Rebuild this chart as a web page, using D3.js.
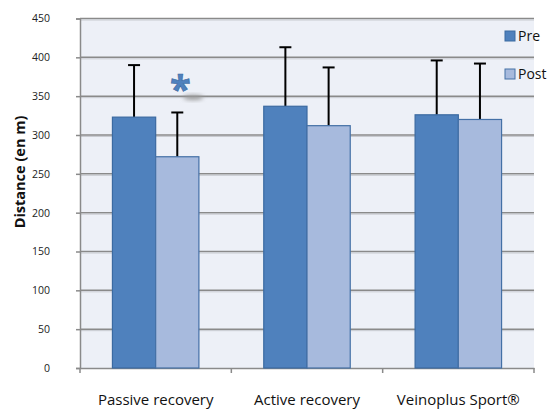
<!DOCTYPE html>
<html>
<head>
<meta charset="utf-8">
<script src="https://cdn.jsdelivr.net/npm/d3@7"></script>
<style>
  html, body { margin: 0; padding: 0; background: #ffffff; }
  svg { display: block; }
</style>
</head>
<body>
<svg id="chart" width="553" height="411"></svg>
<script>
// ---- data ----
const categories = ["Passive recovery", "Active recovery", "Veinoplus Sport®"];
const seriesNames = ["Pre", "Post"];
const preValues = [323, 337, 326];
const preSD = [67, 76, 70];
const postValues = [272, 312, 320];
const postSD = [57, 75, 72];
const yTicks = [0, 50, 100, 150, 200, 250, 300, 350, 400, 450];
const significant = [true, false, false]; // asterisk above post bar

// ---- layout ----
const svg = d3.select("#chart");
const plot = { left: 80, right: 534, top: 18.5, bottom: 368 };
const colors = { Pre: "#4f81bd", Post: "#a7badd" };
const strokes = { Pre: "#3b6aa1", Post: "#4470a6" };
const font = "'Open Sans', 'DejaVu Sans', sans-serif";

const x = d3.scaleBand().domain(categories).range([plot.left, plot.right]).paddingInner(0).paddingOuter(0);
const y = d3.scaleLinear().domain([0, 450]).range([plot.bottom, plot.top]);
const barW = x.bandwidth() / 3.5;
const sub = d3.scaleBand().domain(seriesNames)
  .range([0, barW * 2]);

// background
svg.append("rect")
  .attr("x", plot.left).attr("y", plot.top)
  .attr("width", plot.right - plot.left).attr("height", plot.bottom - plot.top)
  .attr("fill", "#edf0f7");

// shadow filter
const defs = svg.append("defs");
const f = defs.append("filter").attr("id", "blur").attr("x", "-50%").attr("y", "-50%").attr("width", "200%").attr("height", "200%");
f.append("feGaussianBlur").attr("stdDeviation", 2);

// gridlines
svg.append("g").selectAll("line").data(yTicks.filter(d => d > 0)).join("line")
  .attr("x1", plot.left).attr("x2", plot.right)
  .attr("y1", d => y(d)).attr("y2", d => y(d))
  .attr("stroke", "#8a8a8a").attr("stroke-width", 1.5);
svg.append("g").selectAll("line").data(yTicks.filter(d => d > 0)).join("line")
  .attr("x1", plot.left).attr("x2", plot.right)
  .attr("y1", d => y(d) + 1.5).attr("y2", d => y(d) + 1.5)
  .attr("stroke", "#c8cad0").attr("stroke-width", 1);

// y axis
const yAxis = d3.axisLeft(y).tickValues(yTicks).tickSize(4).tickPadding(26).tickFormat(d3.format("d"));
const gy = svg.append("g").attr("transform", `translate(${plot.left},0)`).call(yAxis);
gy.select(".domain").attr("stroke", "#8a8a8a").attr("stroke-width", 1.5);
gy.selectAll(".tick line").attr("stroke", "#8a8a8a").attr("stroke-width", 1.5);
gy.selectAll(".tick text").attr("font-family", font).attr("font-size", 10.5).attr("fill", "#222");

// x axis
const xAxis = d3.axisBottom(x).tickSize(0).tickPadding(26);
const gx = svg.append("g").attr("transform", `translate(0,${plot.bottom})`).call(xAxis);
gx.select(".domain").attr("stroke", "#8a8a8a").attr("stroke-width", 1.5);
gx.selectAll(".tick text").attr("font-family", font).attr("font-size", 15).attr("fill", "#111");
// boundary ticks
const bounds = categories.map(c => x(c)).concat([x(categories[categories.length - 1]) + x.bandwidth()]);
gx.append("g").selectAll("line").data(bounds).join("line")
  .attr("x1", d => d).attr("x2", d => d).attr("y1", 0).attr("y2", 5)
  .attr("stroke", "#8a8a8a").attr("stroke-width", 1.5);

// bars
const rows = [];
categories.forEach((c, i) => {
  rows.push({ cat: c, s: "Pre", v: preValues[i], sd: preSD[i], i });
  rows.push({ cat: c, s: "Post", v: postValues[i], sd: postSD[i], i });
});
const groupX = c => x(c) + x.bandwidth() / 2 - barW;

// error bars (drawn behind bars)
const eg = svg.append("g");
eg.selectAll("line.v").data(rows).join("line")
  .attr("x1", d => groupX(d.cat) + sub(d.s) + barW / 2)
  .attr("x2", d => groupX(d.cat) + sub(d.s) + barW / 2)
  .attr("y1", d => y(d.v)).attr("y2", d => y(d.v + d.sd))
  .attr("stroke", "#000").attr("stroke-width", 2);
eg.selectAll("line.c").data(rows).join("line")
  .attr("x1", d => groupX(d.cat) + sub(d.s) + barW / 2 - 6)
  .attr("x2", d => groupX(d.cat) + sub(d.s) + barW / 2 + 6)
  .attr("y1", d => y(d.v + d.sd)).attr("y2", d => y(d.v + d.sd))
  .attr("stroke", "#000").attr("stroke-width", 2);

svg.append("g").selectAll("rect").data(rows).join("rect")
  .attr("x", d => groupX(d.cat) + sub(d.s))
  .attr("y", d => y(d.v))
  .attr("width", barW)
  .attr("height", d => y(0) - y(d.v))
  .attr("fill", d => colors[d.s])
  .attr("stroke", d => strokes[d.s]).attr("stroke-width", 1.2);

// asterisk
const ag = svg.append("g");
rows.filter(d => d.s === "Post" && significant[d.i]).forEach(d => {
  const cx = groupX(d.cat) + sub(d.s) + barW / 2 + 3;
  const cy = y(d.v + d.sd) - 26;
  ag.append("ellipse").attr("cx", cx + 13).attr("cy", cy + 11).attr("rx", 10).attr("ry", 2.5)
    .attr("fill", "#9a9a9a").attr("filter", "url(#blur)");
  ag.append("text").attr("x", cx).attr("y", cy + 17)
    .attr("text-anchor", "middle")
    .attr("font-family", font).attr("font-size", 38).attr("font-weight", "bold")
    .attr("fill", "#4f81bd").attr("stroke", "#3b6aa1").attr("stroke-width", 0.6)
    .text("*");
});

// y title
svg.append("text")
  .attr("transform", `translate(25,172) rotate(-90)`)
  .attr("text-anchor", "middle")
  .attr("font-family", font).attr("font-size", 14.5).attr("font-weight", "bold")
  .attr("fill", "#111")
  .text("Distance (en m)");

// legend
const legY = [36, 74];
const lg = svg.append("g");
seriesNames.forEach((s, i) => {
  lg.append("rect").attr("x", 505).attr("y", legY[i] - 5).attr("width", 10).attr("height", 10)
    .attr("fill", colors[s]).attr("stroke", strokes[s]).attr("stroke-width", 1);
  lg.append("text").attr("x", 518).attr("y", legY[i]).attr("dy", "0.35em")
    .attr("font-family", font).attr("font-size", 14).attr("fill", "#111")
    .text(s);
});
</script>
</body>
</html>
